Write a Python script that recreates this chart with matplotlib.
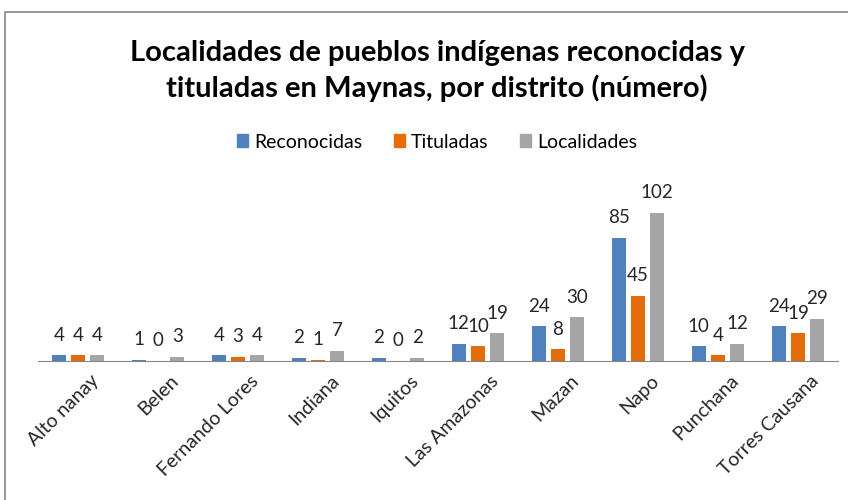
import matplotlib.pyplot as plt
import matplotlib.patches as mpatches
import matplotlib.transforms as mtrans
import numpy as np

plt.rcParams['font.family'] = ['Lato', 'DejaVu Sans']

distritos = ['Alto nanay', 'Belen', 'Fernando Lores', 'Indiana', 'Iquitos',
             'Las Amazonas', 'Mazan', 'Napo', 'Punchana', 'Torres Causana']
reconocidas = [4, 1, 4, 2, 2, 12, 24, 85, 10, 24]
tituladas = [4, 0, 3, 1, 0, 10, 8, 45, 4, 19]
localidades = [4, 3, 4, 7, 2, 19, 30, 102, 12, 29]

series = [('Reconocidas', reconocidas, '#4F81BD'),
          ('Tituladas', tituladas, '#E46C0A'),
          ('Localidades', localidades, '#A5A5A5')]

fig = plt.figure(figsize=(8.48, 5), dpi=100)
# frame of the chart area (cut off at right and bottom)
fig.patches.append(mpatches.Rectangle((5 / 848, -0.1), 1.2, 1 - 12 / 500 + 0.1,
                                      transform=fig.transFigure, fill=False,
                                      edgecolor='#868686', linewidth=1.2))

ax = fig.add_axes([38 / 848, (500 - 361) / 500, 800 / 848, 200 / 500])
x = np.arange(len(distritos))
w = 0.18
pitch = 0.24
for i, (name, vals, col) in enumerate(series):
    pos = x + (i - 1) * pitch
    ax.bar(pos, vals, w, color=col, label=name)
    for p, v in zip(pos, vals):
        ax.text(p, v + 8, str(v), ha='center', va='bottom', fontsize=13.5,
                color='#262626')

ax.set_xlim(-0.5, len(distritos) - 0.5)
ax.set_ylim(0, 102 * 200 / 148)
ax.set_yticks([])
for s in ['top', 'right', 'left']:
    ax.spines[s].set_visible(False)
ax.spines['bottom'].set_color('#868686')
ax.set_xticks(x)
ax.set_xticklabels(distritos, rotation=45, ha='right', rotation_mode='anchor',
                   fontsize=14, color='#262626')
ax.tick_params(axis='x', length=0, pad=8)
shift = mtrans.ScaledTranslation(0.12, 0, fig.dpi_scale_trans)
for lab in ax.get_xticklabels():
    lab.set_transform(lab.get_transform() + shift)

cx = 437 / 848
fig.text(cx, 1 - 71 / 500, 'Localidades de pueblos indígenas reconocidas y\n'
         'tituladas en Maynas, por distrito (número)',
         ha='center', va='center', fontsize=21, fontweight='bold',
         linespacing=1.4, color='black')

handles = [mpatches.Patch(color=c) for _, _, c in series]
fig.legend(handles, [n for n, _, _ in series], loc='center',
           bbox_to_anchor=(cx, 1 - 142 / 500), ncol=3, frameon=False,
           fontsize=14, handlelength=0.6, handleheight=0.6, handletextpad=0.3,
           columnspacing=1.6)

fig.savefig('out.png', dpi=100)
